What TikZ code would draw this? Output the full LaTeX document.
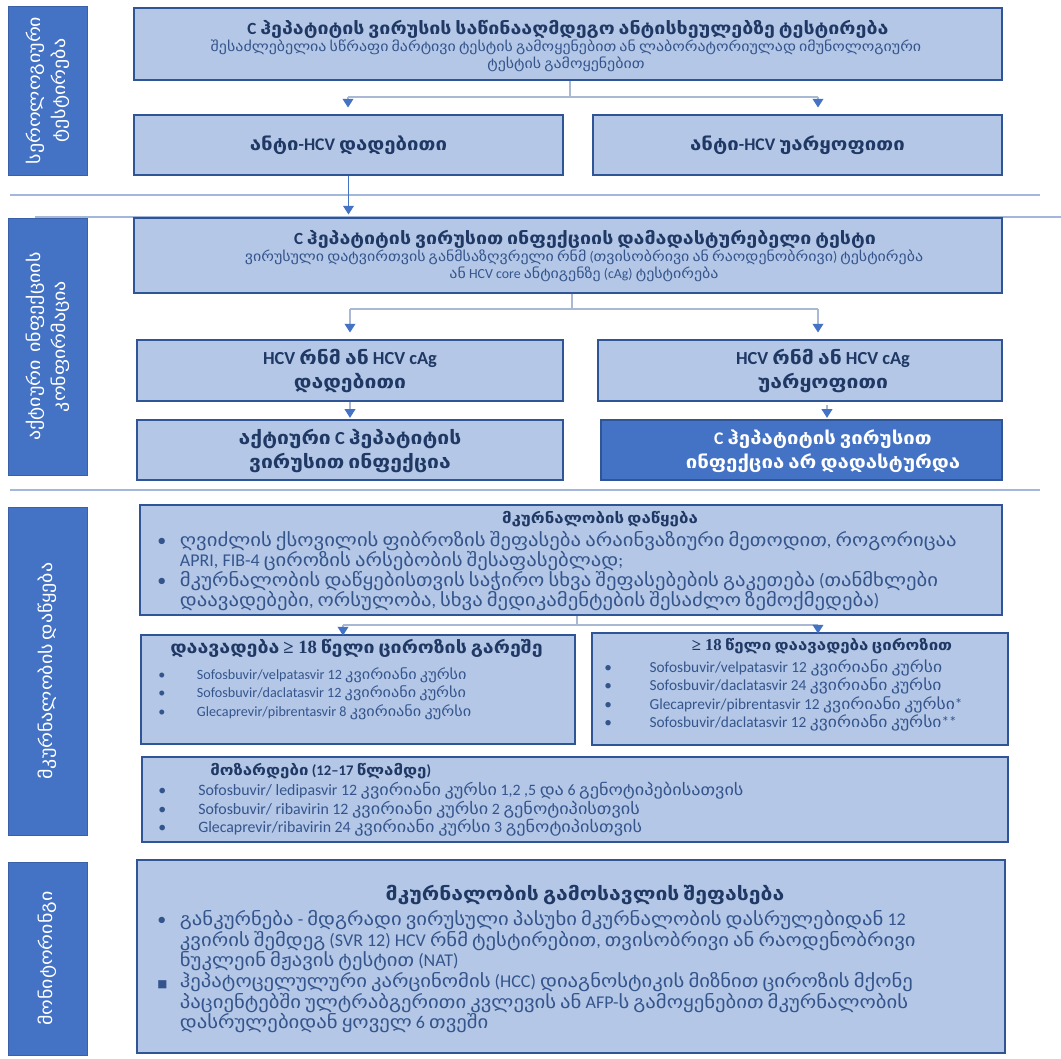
\documentclass[tikz,border=0pt]{standalone}
\usepackage{fontspec}
\setmainfont{Carlito}
\newfontfamily\geofam[FakeStretch=1.15]{DejaVu Sans}
\newfontfamily\latfam{Carlito}
\newfontfamily\serfam{Liberation Serif}
\newfontfamily\dvfam{DejaVu Sans}
\XeTeXinterchartokenstate=1
\newXeTeXintercharclass\geoclass
\newcount\gcnt
\gcnt="10A0
\loop
  \XeTeXcharclass\gcnt=\geoclass
  \advance\gcnt by 1
\ifnum\gcnt<"1100 \repeat
\XeTeXinterchartoks 0 \geoclass = {\geofam}
\XeTeXinterchartoks 4095 \geoclass = {\geofam}
\XeTeXinterchartoks \geoclass 0 = {\latfam}
\XeTeXinterchartoks \geoclass 4095 = {\latfam}
\usetikzlibrary{arrows.meta,fit}
\definecolor{labc}{HTML}{4472C4}
\definecolor{boxf}{HTML}{B4C7E7}
\definecolor{boxd}{HTML}{2F5597}
\definecolor{txtd}{HTML}{1F3864}
\definecolor{txtl}{HTML}{34558C}
\definecolor{connc}{HTML}{A9B8D3}
\definecolor{sepc}{HTML}{A3B7DA}
\newcommand\bul[1]{\makebox[#1][l]{•}}
\begin{document}
\begin{tikzpicture}[x=0.75pt,y=-0.75pt,
  box/.style={draw=boxd, line width=1.2pt, fill=boxf, inner sep=0pt},
  darkbox/.style={draw=boxd, line width=1.2pt, fill=labc, inner sep=0pt},
  labbox/.style={fill=labc, draw=labc!85!black, line width=0.6pt, inner sep=0pt},
  labtxt/.style={text=white, rotate=90, align=center, font=\fontsize{13}{18.5}\selectfont},
  ttl/.style={text=txtd, font=\bfseries\fontsize{13.3}{18}\selectfont, align=center, inner sep=0pt},
  midttl/.style={ttl, font=\bfseries\fontsize{13.8}{18}\selectfont},
  bigttl/.style={ttl, font=\bfseries\fontsize{12.8}{18}\selectfont},
  smttl/.style={ttl, font=\bfseries\fontsize{11}{18}\selectfont},
  sub/.style={text=txtl, font=\fontsize{10.4}{12.5}\selectfont, align=center, inner sep=0pt},
  lst/.style={text=txtl, font=\fontsize{13.5}{15}\selectfont, align=left, inner sep=0pt},
  slst/.style={text=txtl, font=\fontsize{11}{13.9}\selectfont, align=left, inner sep=0pt},
  conn/.style={draw=connc, line width=1pt},
  arr/.style={conn, -{Triangle[width=8pt,length=6.5pt,color=labc]}},
  sepl/.style={draw=sepc, line width=1pt}]
\fill[white] (0,0) rectangle (1061,1059);
\useasboundingbox (0,0) rectangle (1061,1059);
% separators
\draw[sepl] (10,195) -- (1040,195);
\draw[sepl] (35,217) -- (1061,217);
\draw[sepl] (10,490) -- (1040,490);
% left labels
\node[labbox, fit={(8,6) (87,175)}] (L1) {};
\node[labtxt] (L1t) at (L1.center) {სეროლოგიური\\ტესტირება};
\node[labbox, fit={(8,218) (87,475)}] (L2) {};
\node[labtxt] (L2t) at (L2.center) {აქტიური\ \ ინფექციის\\კონფირმაცია};
\node[labbox, fit={(8,507) (87,835)}] (L3) {};
\node[labtxt] (L3t) at (L3.center) {მკურნალობის დაწყება};
\node[labbox, fit={(8,862) (87,1055)}] (L4) {};
\node[labtxt] (L4t) at (L4.center) {მონიტორინგი};
% section 1
\node[box, fit={(134,8) (1002,80)}] (A) {};
\node[bigttl] (At) at (568,29) {C ჰეპატიტის ვირუსის საწინააღმდეგო ანტისხეულებზე ტესტირება};
\node[sub] (As) at (566,56) {შესაძლებელია სწრაფი მარტივი ტესტის გამოყენებით ან ლაბორატორიულად იმუნოლოგიური\\ტესტის გამოყენებით};
\node[box, fit={(134,115) (563,175)}] (B) {};
\node[ttl] (Bt) at (B.center) {ანტი-HCV დადებითი};
\node[box, fit={(593,115) (1002,175)}] (C) {};
\node[ttl] (Ct) at (C.center) {ანტი-HCV უარყოფითი};
% section 2
\node[box, fit={(134,218) (1002,293)}] (D) {};
\node[bigttl] (Dt) at (585,239) {C ჰეპატიტის ვირუსით ინფექციის დამადასტურებელი ტესტი};
\node[sub] (Ds) at (584,266) {ვირუსული დატვირთვის განმსაზღვრელი რნმ (თვისობრივი ან რაოდენობრივი) ტესტირება\\ან HCV core ანტიგენზე (cAg) ტესტირება};
\node[box, fit={(137,340) (563,401)}] (E) {};
\node[midttl] (Et) at (350,371) {HCV რნმ ან HCV cAg\\დადებითი};
\node[box, fit={(598,340) (1002,401)}] (F) {};
\node[midttl] (Ft) at (823,371) {HCV რნმ ან HCV cAg\\უარყოფითი};
\node[box, fit={(137,420) (563,480)}] (G) {};
\node[midttl] (Gt) at (350,451) {აქტიური C ჰეპატიტის\\ვირუსით ინფექცია};
\node[darkbox, fit={(601,420) (1002,480)}] (H) {};
\node[ttl, text=white] (Ht) at (823,451) {C ჰეპატიტის ვირუსით\\ინფექცია არ დადასტურდა};
% section 3
\node[box, fit={(140,505) (1002,615)}] (I) {};
\node[smttl] (It) at (600,519) {მკურნალობის დაწყება};
\node[lst, anchor=north west] (Il) at (157,531) {\bul{17pt}ღვიძლის ქსოვილის ფიბროზის შეფასება არაინვაზიური მეთოდით, როგორიცაა\\
\hspace*{17pt}APRI, FIB-4 ციროზის არსებობის შესაფასებლად;\\
\bul{17pt}მკურნალობის დაწყებისთვის საჭირო სხვა შეფასებების გაკეთება (თანმხლები\\
\hspace*{17pt}დაავადებები, ორსულობა, სხვა მედიკამენტების შესაძლო ზემოქმედება)};
\node[box, fit={(141,635) (575,744)}] (J) {};
\node[bigttl, anchor=west] (Jt) at (170,648) {დაავადება {\serfam\fontsize{14}{18}\selectfont ≥ 18} წელი ციროზის გარეშე};
\node[slst, font=\fontsize{10.6}{13.9}\selectfont, anchor=north west] (Jl) at (158,667) {\bul{29pt}Sofosbuvir/velpatasvir 12 კვირიანი კურსი\\
\bul{29pt}Sofosbuvir/daclatasvir 12 კვირიანი კურსი\\
\bul{29pt}Glecaprevir/pibrentasvir 8 კვირიანი კურსი};
\node[box, fit={(592,633) (1008,745)}] (K) {};
\node[smttl] (Kt) at (822,646) {{\serfam\fontsize{12.5}{18}\selectfont ≥ 18} წელი დაავადება ციროზით};
\node[slst, font=\fontsize{11.5}{13.9}\selectfont, anchor=north west] (Kl) at (604,659) {\bul{34pt}Sofosbuvir/velpatasvir 12 კვირიანი კურსი\\
\bul{34pt}Sofosbuvir/daclatasvir 24 კვირიანი კურსი\\
\bul{34pt}Glecaprevir/pibrentasvir 12 კვირიანი კურსი*\\
\bul{34pt}Sofosbuvir/daclatasvir 12 კვირიანი კურსი**};
\node[box, fit={(142,757) (1008,842)}] (Lb) {};
\node[smttl, anchor=west] (Lt) at (210,771) {მოზარდები (12–17 წლამდე)};
\node[slst, font=\fontsize{11.9}{13.9}\selectfont, anchor=north west] (Ll) at (158,782) {\bul{30pt}Sofosbuvir/ ledipasvir 12 კვირიანი კურსი 1,2 ,5 და 6 გენოტიპებისათვის\\
\bul{30pt}Sofosbuvir/ ribavirin 12 კვირიანი კურსი 2 გენოტიპისთვის\\
\bul{30pt}Glecaprevir/ribavirin 24 კვირიანი კურსი 3 გენოტიპისთვის};
% section 4
\node[box, fit={(137,860) (1005,1053)}] (M) {};
\node[ttl, font=\bfseries\fontsize{13.8}{18}\selectfont] (Mt) at (585,895) {მკურნალობის გამოსავლის შეფასება};
\node[lst, font=\fontsize{13.5}{15.5}\selectfont, anchor=north west] (Ml) at (157,910) {\bul{17pt}განკურნება - მდგრადი ვირუსული პასუხი მკურნალობის დასრულებიდან 12\\
\hspace*{17pt}კვირის შემდეგ (SVR 12) HCV რნმ ტესტირებით, თვისობრივი ან რაოდენობრივი\\
\hspace*{17pt}ნუკლეინ მჟავის ტესტით (NAT)\\
\makebox[17pt][l]{\dvfam\fontsize{8}{10}\selectfont ■}ჰეპატოცელულური კარცინომის (HCC) დიაგნოსტიკის მიზნით ციროზის მქონე\\
\hspace*{17pt}პაციენტებში ულტრაბგერითი კვლევის ან AFP-ს გამოყენებით მკურნალობის\\
\hspace*{17pt}დასრულებიდან ყოველ 6 თვეში};
% connectors
\coordinate (f1) at (570,97);
\coordinate (c1a) at (348,97);
\coordinate (c1b) at (818,97);
\draw[conn] (A.south -| f1) -- (f1);
\draw[conn] (c1a) -- (c1b);
\draw[arr, shorten >=5pt] (c1a) -- (c1a |- B.north);
\draw[arr, shorten >=5pt] (c1b) -- (c1b |- C.north);
\draw[arr, draw=labc, shorten >=2pt] (B.south) -- (B.south |- D.north);
\coordinate (f2) at (572,309);
\coordinate (c2a) at (350,309);
\coordinate (c2b) at (818,309);
\draw[conn] (D.south -| f2) -- (f2);
\draw[conn] (c2a) -- (c2b);
\draw[arr, shorten >=5pt] (c2a) -- (c2a |- E.north);
\draw[arr, shorten >=5pt] (c2b) -- (c2b |- F.north);
\draw[arr, shorten >=1pt] (E.south -| Et) -- (Et |- G.north);
\coordinate (c4) at (827,405);
\draw[arr, shorten >=1pt] (c4) -- (c4 |- H.north);
\coordinate (f3) at (577,625);
\coordinate (c3a) at (343,625);
\coordinate (c3b) at (818,625);
\draw[conn] (I.south -| f3) -- (f3);
\draw[conn] (c3a) -- (c3b);
\draw[arr, shorten >=-1pt] (c3a) -- (c3a |- J.north);
\draw[arr, shorten >=-1pt] (c3b) -- (c3b |- K.north);
\end{tikzpicture}
\end{document}
